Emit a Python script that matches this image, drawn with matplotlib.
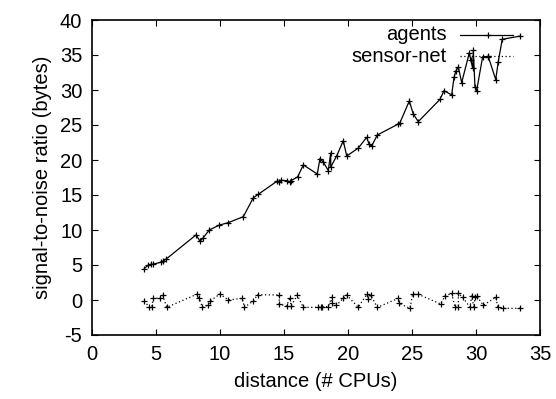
import matplotlib
matplotlib.use("Agg")
import matplotlib.pyplot as plt
from matplotlib.lines import Line2D

plt.rcParams["font.family"] = ["Liberation Sans", "DejaVu Sans"]
plt.rcParams["axes.unicode_minus"] = False

# agents series (distance, snr)
agents_x = [4.09, 4.40, 4.61, 4.74, 5.39, 5.57, 5.76, 8.13, 8.44, 8.65, 9.16, 9.95,
            10.65, 11.82, 12.60, 12.99, 14.48, 14.63, 14.74, 15.26, 15.47, 15.55,
            16.07, 16.51, 17.60, 17.81, 18.07, 18.46, 18.65, 18.65, 19.12, 19.63,
            19.90, 20.80, 21.46, 21.64, 21.85, 22.29, 23.93, 24.06, 24.79, 25.10,
            25.49, 27.19, 27.50, 28.10, 28.28, 28.44, 28.62, 28.88, 29.48, 29.59,
            29.74, 29.79, 29.92, 30.05, 30.52, 30.96, 31.54, 31.74, 32.05, 33.44]
agents_y = [4.5, 5.0, 5.1, 5.1, 5.4, 5.6, 5.8, 9.3, 8.4, 8.8, 10.0, 10.7,
            11.05, 11.9, 14.6, 15.1, 17.0, 16.8, 17.1, 17.05, 16.8, 17.05,
            17.6, 19.3, 18.0, 20.2, 19.7, 18.5, 21.0, 19.0, 20.6, 22.76,
            20.57, 21.7, 23.24, 22.3, 22.0, 23.57, 25.14, 25.33, 28.43, 26.57,
            25.48, 28.67, 29.9, 29.3, 31.8, 32.76, 33.3, 31.05, 35.33, 34.3,
            33.1, 35.7, 30.4, 29.9, 34.76, 34.76, 31.5, 34.05, 37.24, 37.7]

# sensor-net series
sensor_x = [4.09, 4.48, 4.66, 4.79, 5.31, 5.52, 5.84, 8.18, 8.38, 8.62, 9.09, 9.22,
            10.0, 10.65, 11.74, 11.90, 12.60, 12.94, 14.63, 14.63, 15.20, 15.47,
            15.55, 16.04, 16.50, 17.68, 17.87, 18.0, 18.46, 18.72, 18.72, 19.10,
            19.63, 19.90, 20.80, 21.46, 21.59, 21.77, 22.29, 23.93, 24.0, 24.84,
            25.05, 25.49, 27.24, 27.58, 28.10, 28.36, 28.62, 28.62, 28.96, 29.53,
            29.66, 29.84, 29.92, 30.05, 30.57, 31.54, 31.70, 32.08, 33.44]
sensor_y = [-0.14, -1.05, -1.05, 0.24, 0.24, 0.67, -1.05, 0.81, 0.24, -1.05, -0.71, -0.14,
            0.86, 0.0, 0.24, -1.05, -0.14, 0.76, 0.71, -0.57, -0.86, 0.33,
            -0.86, 0.71, -1.05, -1.05, -1.05, -0.95, -0.95, 0.38, -0.48, -0.76,
            0.24, 0.71, -1.05, 0.81, 0.1, 0.71, -1.05, 0.24, -0.48, -1.19,
            0.81, 0.81, -0.57, 0.57, 0.95, -1.05, -1.05, 0.95, 0.38, -1.05,
            0.57, -1.05, 0.48, 0.57, -0.76, 0.38, -0.95, -1.19, -1.19]

x_ticks = [0, 5, 10, 15, 20, 25, 30, 35]
y_ticks = [-5, 0, 5, 10, 15, 20, 25, 30, 35, 40]

fig = plt.figure(figsize=(5.56, 3.99), dpi=100)
ax = fig.add_axes([92 / 556, 64 / 399, 448 / 556, 315 / 399])

ax.plot(agents_x, agents_y, "k-", marker="+", ms=5, mew=0.9, lw=0.9)
ax.plot(sensor_x, sensor_y, color="k", ls=(0, (1, 2)), marker="+", ms=5, mew=0.9, lw=0.9)

ax.set_xlim(0, 35)
ax.set_ylim(-5, 40)
ax.set_xticks(x_ticks)
ax.set_yticks(y_ticks)
ax.tick_params(direction="in", top=True, right=True, length=4.5, width=0.8,
               labelsize=14.5, pad=7)
for s in ax.spines.values():
    s.set_linewidth(1.2)

ax.set_xlabel("distance (# CPUs)", fontsize=14.5, labelpad=6)
ax.set_ylabel("signal-to-noise ratio (bytes)", fontsize=14.5, labelpad=6)

# gnuplot-style key: right-aligned text, sample to the right
keys = [("agents", "-", 35), ("sensor-net", (0, (1, 2)), 56)]
for label, ls, py in keys:
    yf = 1 - (py - 20) / 315
    ax.text((447 - 92) / 448, yf, label, transform=ax.transAxes, ha="right",
            va="center", fontsize=14.5)
    ax.add_line(Line2D([(460 - 92) / 448, (513 - 92) / 448], [yf, yf], color="k", ls=ls,
                       lw=0.9, transform=ax.transAxes))
    ax.add_line(Line2D([(488 - 92) / 448], [yf], color="k", marker="+", ms=5, mew=0.9,
                       transform=ax.transAxes))

fig.savefig("out.png", dpi=100)
